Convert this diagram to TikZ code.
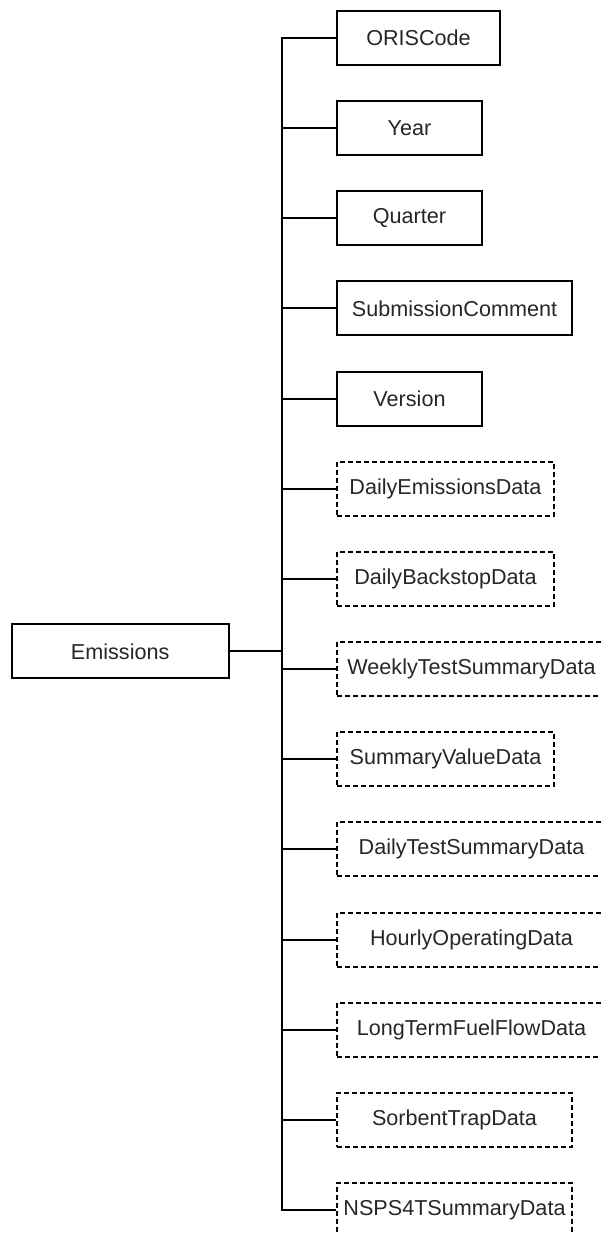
\documentclass[tikz,border=0pt]{standalone}
\usepackage{fontspec}
\setmainfont{Liberation Sans}
\tikzset{
  field/.style={draw, line width=1pt, inner sep=0pt, minimum height=27pt,
    anchor=west, text=black!85, font=\fontsize{10.8}{13}\selectfont},
  group/.style={field, dash pattern=on 2.5pt off 1.5pt},
  link/.style={line width=1pt},
}
\begin{document}
\begin{tikzpicture}[x=0.5pt,y=-0.5pt]
    \useasboundingbox (0,0) rectangle (600,1235);
    \def\x{336}
    \node [field, minimum width=108.5pt] (emis) at (10.7,651.3) {Emissions};
    \coordinate (jn) at (282,651.3);
    % plain fields
    \node [field, minimum width=81.5pt] (oris) at (\x,37.8) {ORISCode};
    \node [field, minimum width=72.5pt] (year) at (\x,128.0) {Year};
    \node [field, minimum width=72.5pt] (quarter) at (\x,218.1) {Quarter};
    \node [field, minimum width=117.5pt] (comment) at (\x,308.3) {SubmissionComment};
    \node [field, minimum width=72.5pt] (version) at (\x,398.5) {Version};
    % optional groups
    \node [group, minimum width=108.5pt] (dailyem) at (\x,488.6) {DailyEmissionsData};
    \node [group, minimum width=108.5pt] (backstop) at (\x,578.8) {DailyBackstopData};
    \node [group, minimum width=134.5pt] (weekly) at (\x,669.0) {WeeklyTestSummaryData};
    \node [group, minimum width=108.5pt] (sumval) at (\x,759.1) {SummaryValueData};
    \node [group, minimum width=134.5pt] (dailytest) at (\x,849.3) {DailyTestSummaryData};
    \node [group, minimum width=134.5pt] (hourly) at (\x,939.5) {HourlyOperatingData};
    \node [group, minimum width=134.5pt] (ltff) at (\x,1029.7) {LongTermFuelFlowData};
    \node [group, minimum width=117.5pt] (sorbent) at (\x,1119.8) {SorbentTrapData};
    \node [group, minimum width=117.5pt] (nsps) at (\x,1210.0) {NSPS4TSummaryData};
    \draw [link] (emis.east) -- (jn);
    \draw [link] (jn) |- (oris.west);
    \draw [link] (jn) |- (year.west);
    \draw [link] (jn) |- (quarter.west);
    \draw [link] (jn) |- (comment.west);
    \draw [link] (jn) |- (version.west);
    \draw [link] (jn) |- (dailyem.west);
    \draw [link] (jn) |- (backstop.west);
    \draw [link] (jn) |- (weekly.west);
    \draw [link] (jn) |- (sumval.west);
    \draw [link] (jn) |- (dailytest.west);
    \draw [link] (jn) |- (hourly.west);
    \draw [link] (jn) |- (ltff.west);
    \draw [link] (jn) |- (sorbent.west);
    \draw [link] (jn) |- (nsps.west);
  \end{tikzpicture}
\end{document}
